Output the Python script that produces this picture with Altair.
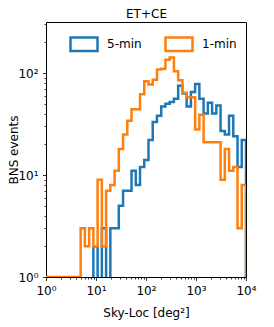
import altair as alt
import numpy as np
import pandas as pd

# ---- data ----
series_names = ["5-min", "1-min"]
series_colors = ["#1f77b4", "#ff7f0e"]

# 48 logarithmic bins (edges from 10^-0.07 to 10^4)
bin_log_lo = -0.07
bin_log_hi = 4.0
n_bins = 48

counts_5min = [0, 0, 0, 0, 0, 0, 0, 0, 0, 0, 0, 0,
               2, 0, 3, 0, 3, 3, 5, 7, 7, 11, 8, 12,
               14, 22, 33, 38, 47, 50, 52, 56, 75, 63, 47, 65,
               78, 56, 40, 51, 40, 48, 27, 25, 38, 24, 12, 22]

counts_1min = [1, 1, 1, 1, 1, 1, 1, 1, 1, 3, 2, 3,
               2, 9, 2, 7, 8, 11, 18, 25, 34, 44, 44, 62,
               83, 77, 86, 108, 110, 135, 142, 104, 85, 64, 58, 58,
               28, 39, 21, 21, 21, 21, 9, 18, 11, 12, 3, 8]

x_major = [1, 10, 100, 1000, 10000]
x_major_labels = ["10⁰", "10¹", "10²", "10³", "10⁴"]
y_major = [1, 10, 100]
y_major_labels = ["10⁰", "10¹", "10²"]

x_domain = [1, 10000]
y_domain = [1, 10 ** 2.5]

title_text = "ET+CE"
x_title = "Sky-Loc [deg²]"
y_title = "BNS events"

# ---- build step outlines (like matplotlib histtype="step") ----
bin_edges = np.logspace(bin_log_lo, bin_log_hi, n_bins + 1)
floor_value = 0.3  # below the axis: clipped, like a zero count on a log axis

rows = []
for name, counts in zip(series_names, [counts_5min, counts_1min]):
    idx = 0
    rows.append({"series": name, "x": bin_edges[0], "y": floor_value, "idx": idx}); idx += 1
    for i, c in enumerate(counts):
        v = c if c > 0 else floor_value
        rows.append({"series": name, "x": bin_edges[i], "y": v, "idx": idx}); idx += 1
        rows.append({"series": name, "x": bin_edges[i + 1], "y": v, "idx": idx}); idx += 1
    rows.append({"series": name, "x": bin_edges[-1], "y": floor_value, "idx": idx})
df = pd.DataFrame(rows)

x_ticks = [k * 10 ** d for d in range(4) for k in range(1, 10)] + [10000]
y_ticks = [k * 10 ** d for d in range(2) for k in range(1, 10)] + [100, 200, 300]


def label_expr(values, labels):
    expr = "''"
    for v, l in reversed(list(zip(values, labels))):
        expr = f"datum.value == {v} ? '{l}' : {expr}"
    return expr


def tick_size(values):
    return {"condition": {"test": f"indexof({values}, datum.value) >= 0", "value": 3.5},
            "value": 2}


font = "DejaVu Sans"

x_scale = alt.Scale(type="log", domain=x_domain, nice=False)
y_scale = alt.Scale(type="log", domain=y_domain, nice=False)

x_axis_bottom = alt.Axis(
    title=x_title, values=x_ticks, labelExpr=label_expr(x_major, x_major_labels),
    tickSize=tick_size(x_major), labelFlush=False, labelOverlap=False,
    labelBaseline="alphabetic", labelPadding=14, titleY=39, titleBaseline="alphabetic",
)
x_axis_top = alt.Axis(
    orient="top", title=title_text, labels=False, ticks=False, domain=False,
    titleY=-4.5, titleBaseline="alphabetic",
)
y_axis = alt.Axis(
    title=y_title, values=y_ticks, labelExpr=label_expr(y_major, y_major_labels),
    tickSize=tick_size(y_major), labelOverlap=False, labelPadding=4.5,
    labelBaseline="middle", titleX=-26, titleBaseline="bottom",
)
color_enc = alt.Color(
    "series:N",
    scale=alt.Scale(domain=series_names, range=series_colors),
    legend=alt.Legend(
        title=None, orient="none", legendX=23, legendY=7, direction="horizontal",
        symbolType="M-1,-0.5H1V0.5H-1Z", symbolSize=729, symbolStrokeWidth=2.5,
        symbolFillColor="transparent", symbolOpacity=1,
        labelFont=font, labelFontSize=12, labelColor="black", labelOffset=8,
        columnPadding=18, padding=0,
    ),
)

base = alt.Chart(df).mark_line(clip=True, strokeWidth=2.5, strokeJoin="miter")

layer_5min = base.transform_filter(alt.datum.series == series_names[0]).encode(
    x=alt.X("x:Q", scale=x_scale, axis=x_axis_bottom),
    y=alt.Y("y:Q", scale=y_scale, axis=y_axis),
    color=color_enc, order=alt.Order("idx:Q"),
)
layer_1min = base.transform_filter(alt.datum.series == series_names[1]).encode(
    x=alt.X("x:Q", scale=x_scale, axis=None),
    y=alt.Y("y:Q", scale=y_scale, axis=y_axis),
    color=color_enc, order=alt.Order("idx:Q"),
)
title_layer = alt.Chart(df).mark_line(opacity=0, clip=True).encode(
    x=alt.X("x:Q", scale=x_scale, axis=x_axis_top),
    y=alt.Y("y:Q", scale=y_scale, axis=y_axis),
    order=alt.Order("idx:Q"),
    detail="series:N",
)

chart = alt.layer(layer_5min, layer_1min, title_layer).resolve_axis(
    x="independent"
).properties(
    width=200,
    height=255,
    autosize=alt.AutoSizeParams(type="none"),
    padding={"left": 38, "top": 14, "right": 20, "bottom": 47},
).configure_view(
    stroke="black", strokeWidth=1,
).configure_axis(
    grid=False, domain=False, labelFont=font, labelFontSize=12, labelColor="black",
    tickColor="black", tickWidth=0.8, titleFont=font, titleFontSize=12,
    titleFontWeight="normal", titleColor="black",
)

chart.save("out.html", embed_options={"renderer": "svg", "actions": False})
